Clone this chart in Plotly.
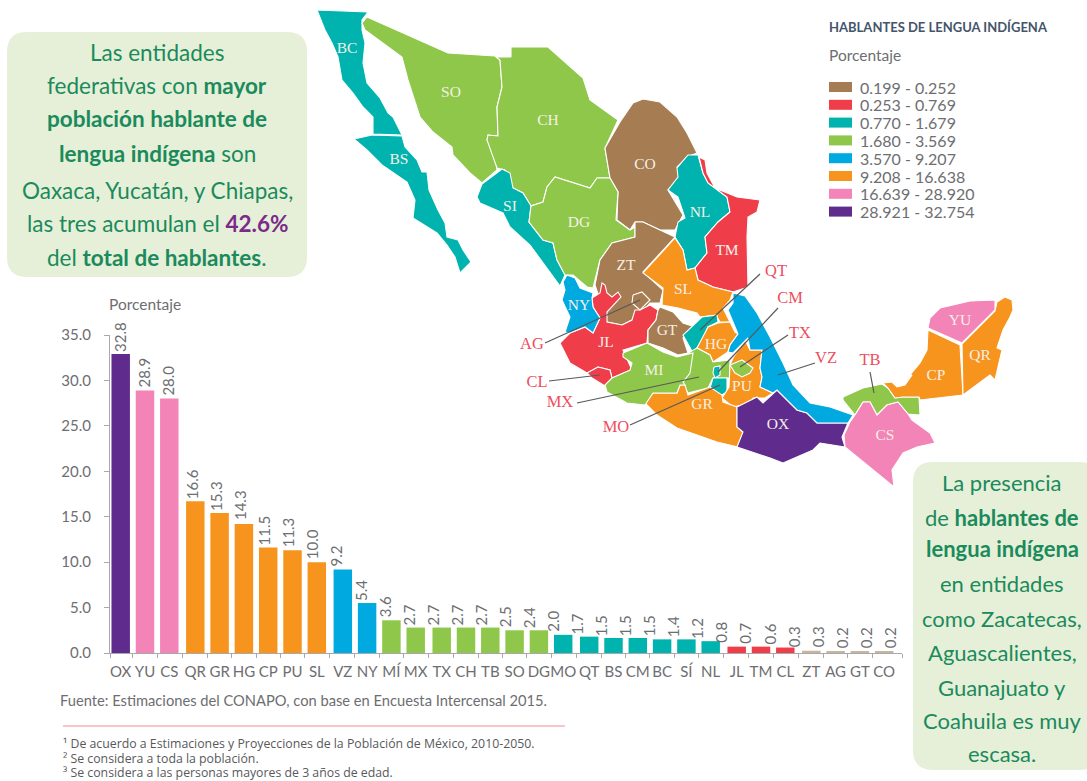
import plotly.graph_objects as go

# ---------- bar data ----------
categories = ["OX","YU","CS","QR","GR","HG","CP","PU","SL","VZ","NY","MÍ","MX","TX","CH","TB","SO","DG","MO","QT","BS","CM","BC","SÍ","NL","JL","TM","CL","ZT","AG","GT","CO"]
bar_values = [32.9,28.9,28.0,16.7,15.4,14.2,11.6,11.3,10.0,9.2,5.5,3.6,2.8,2.8,2.8,2.8,2.5,2.5,2.0,1.8,1.65,1.65,1.5,1.5,1.3,0.7,0.7,0.6,0.25,0.2,0.2,0.2]
printed_labels = ["32.8","28.9","28.0","16.6","15.3","14.3","11.5","11.3","10.0","9.2","5.4","3.6","2.7","2.7","2.7","2.7","2.5","2.4","2.0","1.7","1.5","1.5","1.5","1.4","1.2","0.8","0.7","0.6","0.3","0.3","0.2","0.2","0.2"]
bins = ["P","K","K","O","O","O","O","O","O","B","B","G","G","G","G","G","G","G","T","T","T","T","T","T","T","R","R","R","N","N","N","N"]
gaps_before = [3,9,13,19,25,28]
y_ticks = [0,5,10,15,20,25,30,35]

PALETTE = {"N":"#a67c52","R":"#ef3e4a","T":"#00b3ae","G":"#8fc74a","B":"#00aae0","O":"#f7941e","K":"#f384b7","P":"#5f2c8e"}
legend_ranges = ["0.199 - 0.252","0.253 - 0.769","0.770 - 1.679","1.680 - 3.569","3.570 - 9.207","9.208 - 16.638","16.639 - 28.920","28.921 - 32.754"]
legend_keys = ["N","R","T","G","B","O","K","P"]

# ---------- map outlines (traced in map space) ----------
states = [
 ("BC","T",[(317,10),(368,12),(362,20),(362,30),(365,43),(363,63),(367,83),(380,98),(388,113),(393,117),(402,135),(373,134),(373,117),(363,107),(353,93),(342,80),(338,57),(332,43),(325,30)]),
 ("BS","T",[(354,139),(372,135),(402,136),(405,147),(417,160),(422,172),(427,172),(429,190),(438,210),(445,223),(447,237),(458,240),(463,250),(471,262),(460,273),(455,257),(447,245),(437,233),(413,218),(415,200),(407,182),(382,165),(367,150)]),
 ("SO","G",[(367,17),(448,53),(495,56),(500,60),(502,87),(497,107),(498,136),(488,135),(487,140),(495,155),(497,170),(482,183),(470,173),(453,155),(452,147),(433,132),(420,117),(408,80),(402,57),(382,42),(365,30),(362,23)]),
 ("CH","G",[(511,57),(511,47),(548,47),(583,78),(590,100),(618,120),(605,148),(610,178),(597,178),(590,188),(555,177),(547,187),(543,202),(531,206),(523,193),(513,188),(505,170),(497,168),(487,140),(488,135),(498,136),(497,107),(502,87),(500,60),(496,57)]),
 ("CO","N",[(620,122),(633,103),(643,99),(660,102),(677,117),(687,133),(697,153),(687,157),(677,167),(682,175),(668,190),(683,215),(675,230),(660,230),(643,222),(635,222),(630,230),(617,220),(618,192),(610,178),(605,148)]),
 ("NL","T",[(698,155),(703,173),(708,183),(727,197),(730,212),(718,222),(705,237),(707,253),(695,268),(687,270),(683,250),(675,237),(678,222),(685,218),(678,197),(668,190),(678,177),(677,168),(688,155)]),
 ("TM","R",[(699,157),(705,160),(707,173),(715,188),(737,197),(760,200),(757,212),(748,217),(747,237),(748,287),(733,292),(713,287),(698,280),(695,268),(707,253),(705,237),(718,222),(730,212),(727,197),(708,183),(703,173)]),
 ("SI","T",[(502,169),(510,173),(513,188),(523,193),(531,206),(529,222),(543,240),(553,243),(557,260),(565,275),(560,286),(530,245),(510,227),(503,213),(480,203),(477,197),(482,184)]),
 ("DG","G",[(555,177),(590,188),(597,178),(610,178),(618,192),(616,220),(630,230),(635,227),(635,237),(612,243),(600,260),(593,288),(587,287),(573,275),(565,275),(557,260),(553,243),(543,240),(529,222),(531,206),(543,202),(547,187)]),
 ("ZT","N",[(635,222),(643,222),(660,230),(675,237),(643,272),(663,290),(660,303),(657,303),(650,303),(642,313),(632,320),(622,325),(607,322),(600,300),(595,285),(600,260),(612,243),(635,237)]),
 ("JL","R",[(592,298),(600,293),(602,283),(605,285),(607,293),(612,297),(618,292),(621,297),(607,312),(607,322),(622,325),(632,320),(635,310),(640,310),(650,305),(658,310),(656,320),(648,330),(647,343),(623,350),(632,370),(612,378),(610,370),(598,367),(587,373),(570,363),(560,343),(570,333),(585,327),(593,333),(600,318),(593,307)]),
 ("CL","R",[(587,373),(598,367),(610,370),(612,378),(605,386),(592,378)]),
 ("NY","B",[(567,275),(575,278),(580,288),(593,293),(592,298),(593,307),(600,318),(593,333),(585,327),(570,333),(565,332),(570,317),(562,300),(565,290),(563,282)]),
 ("AG","N",[(633,295),(642,292),(650,300),(640,310),(632,303)]),
 ("GT","N",[(660,307),(673,312),(683,323),(695,327),(683,338),(688,353),(678,355),(663,348),(648,343),(648,330),(656,320),(658,310)]),
 ("SL","O",[(675,238),(683,250),(687,270),(695,268),(698,280),(713,287),(733,292),(730,300),(723,308),(730,322),(720,322),(716,315),(700,317),(697,313),(678,308),(662,305),(663,288),(643,273)]),
 ("QT","T",[(702,317),(717,315),(718,322),(708,327),(703,340),(693,353),(683,335)]),
 ("HG","O",[(718,323),(730,322),(735,332),(738,334),(730,345),(728,352),(713,362),(710,355),(697,348),(708,327)]),
 ("MX","G",[(697,348),(710,355),(713,362),(730,360),(730,378),(713,378),(708,388),(688,393),(683,385),(687,365),(690,352)]),
 ("CM","T",[(714,367),(720,366),(720,375),(715,378),(713,373)]),
 ("MO","T",[(713,378),(727,378),(727,392),(720,396),(710,388)]),
 ("PU","O",[(733,358),(745,340),(750,350),(762,350),(760,368),(762,377),(760,387),(773,393),(765,398),(753,398),(752,405),(742,405),(733,407),(722,398),(729,387),(730,365)]),
 ("TX","G",[(730,365),(742,360),(753,368),(750,373),(742,377),(735,373)]),
 ("GR","O",[(645,403),(653,393),(677,393),(680,385),(685,385),(688,395),(710,387),(722,395),(723,402),(737,407),(737,427),(743,432),(738,447),(717,442),(677,428),(657,415)]),
 ("MI","G",[(623,353),(647,343),(663,352),(677,357),(693,353),(690,373),(683,382),(685,385),(680,385),(677,393),(653,393),(645,405),(627,403),(607,392),(605,385),(612,378),(630,370),(632,363),(623,357)]),
 ("OX","P",[(737,407),(750,400),(757,397),(763,403),(777,390),(797,410),(807,413),(817,423),(848,423),(842,437),(845,447),(820,443),(813,450),(783,463),(770,458),(737,447),(743,432),(737,427)]),
 ("VZ","B",[(733,293),(745,296),(757,313),(770,337),(783,363),(793,385),(810,403),(830,407),(853,415),(848,423),(817,423),(807,413),(797,410),(777,390),(773,393),(760,387),(762,377),(760,368),(762,350),(750,350),(748,338),(733,353),(728,352),(730,345),(738,334),(732,320),(728,310),(733,303)]),
 ("TB","G",[(843,397),(863,388),(882,384),(888,388),(895,398),(903,397),(919,397),(920,415),(908,414),(898,402),(887,405),(877,415),(870,402),(863,402),(855,415),(843,400)]),
 ("CS","K",[(863,402),(870,402),(877,415),(887,405),(898,402),(908,414),(912,420),(930,433),(935,443),(917,447),(903,453),(892,470),(894,487),(845,447),(844,435),(850,422),(855,415)]),
 ("CP","O",[(928,330),(960,345),(963,395),(920,400),(919,397),(903,397),(895,398),(888,388),(883,383),(892,382),(897,387),(905,385),(912,375),(910,375),(920,363),(927,350)]),
 ("YU","K",[(928,328),(930,318),(940,308),(970,301),(995,300),(995,310),(962,343)]),
 ("QR","O",[(997,302),(1005,297),(1012,300),(1013,310),(1010,317),(1003,330),(997,348),(1002,350),(998,367),(995,380),(990,375),(963,395),(962,344),(995,311)]),
]
inner_labels = {"BC":(347,49),"SO":(451,93),"CH":(548,121),"BS":(399,160),"SI":(510,207),"CO":(645,165),"NL":(700,213),"DG":(579,223),"ZT":(626,266),"TM":(727,251),"SL":(683,290),"NY":(579,306),"JL":(606,343),"GT":(667,331),"HG":(716,345),"MI":(654,371),"PU":(742,387),"GR":(702,405),"OX":(778,425),"CP":(936,376),"QR":(980,356),"YU":(960,321),"CS":(885,436)}
outer_labels = {"AG":(532,345),"CL":(537,383),"MX":(560,403),"MO":(616,428),"QT":(776,272),"CM":(790,299),"TX":(800,334),"VZ":(826,359),"TB":(870,361)}
leaders = [((545,343),(640,300)),((549,381),(600,375)),((577,403),(699,377)),((630,425),(720,385)),((760,274),(700,330)),((778,308),(718,372)),((788,335),(740,367)),((815,363),(778,375)),((870,372),(874,393))]

left_box_lines = ["Las entidades","federativas con <b>mayor</b>","<b>población hablante de</b>","<b>lengua indígena</b> son","Oaxaca, Yucatán, y Chiapas,","las tres acumulan el <b><span style='color:#7a2a8a'>42.6%</span></b>","del <b>total de hablantes</b>."]
right_box_lines = ["La presencia","de <b>hablantes de</b>","<b>lengua indígena</b>","en entidades","como Zacatecas,","Aguascalientes,","Guanajuato y","Coahuila es muy","escasa."]
left_box_y = [52,85,118,153,190,223,257]
right_box_y = [482,517,548,583,618,652,687,720,753]

W, H = 1087, 781
AX_L, AX_R, AX_B, AX_T = 110, 902, 653, 335
SLOT = 24.3
FIRST = 120.7

# positions of the bars along the axis, in bar slots
xs, off = [], 0.0
for i in range(len(categories)):
    if i in gaps_before:
        off += 0.07
    xs.append(i + off)
x_range = [(AX_L - FIRST) / SLOT, (AX_R - FIRST) / SLOT]
boundaries = [x_range[0]] + [(a + b) / 2 for a, b in zip(xs, xs[1:])] + [x_range[1]]
label_xs = [-0.03 + 0.99 * j for j in range(len(printed_labels))]

GREY = "#6d6e71"
UI = "Lato, 'Open Sans', sans-serif"
SERIF = "'Liberation Serif', serif"

fig = go.Figure()
fig.add_trace(go.Bar(x=xs, y=bar_values, width=0.76,
    marker=dict(color=[("#c9b49c" if b == "N" else PALETTE[b]) for b in bins], line_width=0),
    hoverinfo="skip", showlegend=False, xaxis="x", yaxis="y"))
fig.add_trace(go.Bar(x=label_xs, y=[float(v) for v in printed_labels], width=0.5,
    marker=dict(color="rgba(0,0,0,0)", line_width=0), text=printed_labels,
    textposition="outside", textangle=-90, constraintext="none", cliponaxis=False,
    textfont=dict(family=UI, size=15, color=GREY),
    hoverinfo="skip", showlegend=False, xaxis="x", yaxis="y"))

for name, key, pts in states:
    fig.add_trace(go.Scatter(x=[p[0] for p in pts] + [pts[0][0]], y=[p[1] for p in pts] + [pts[0][1]],
        mode="lines", fill="toself", fillcolor=PALETTE[key], line=dict(color="white", width=1.1),
        name=name, hoverinfo="skip", showlegend=False, xaxis="x2", yaxis="y2"))
for a, b in leaders:
    fig.add_trace(go.Scatter(x=[a[0], b[0]], y=[a[1], b[1]], mode="lines", line=dict(color="#58595b", width=1.2),
        hoverinfo="skip", showlegend=False, xaxis="x2", yaxis="y2"))
fig.add_trace(go.Scatter(x=[v[0] for v in inner_labels.values()], y=[v[1] for v in inner_labels.values()],
    text=list(inner_labels), mode="text", textfont=dict(family=SERIF, size=15.5, color="#f5f0e6"),
    hoverinfo="skip", showlegend=False, xaxis="x2", yaxis="y2"))
fig.add_trace(go.Scatter(x=[v[0] for v in outer_labels.values()], y=[v[1] for v in outer_labels.values()],
    text=list(outer_labels), mode="text", textfont=dict(family=SERIF, size=16.5, color="#ee4e5e"),
    hoverinfo="skip", showlegend=False, xaxis="x2", yaxis="y2"))

def rounded(x0, y0, x1, y1, r):
    return (f"M{x0+r},{y0} L{x1-r},{y0} Q{x1},{y0} {x1},{y0+r} L{x1},{y1-r} Q{x1},{y1} {x1-r},{y1} "
            f"L{x0+r},{y1} Q{x0},{y1} {x0},{y1-r} L{x0},{y0+r} Q{x0},{y0} {x0+r},{y0} Z")

BOX = "#e6f0d8"
shapes = [
    dict(type="path", xref="x2", yref="y2", path=rounded(7, 32, 307, 277, 20), fillcolor=BOX, line_width=0, layer="below"),
    dict(type="path", xref="x2", yref="y2", path=rounded(913, 462, 1100, 770, 20), fillcolor=BOX, line_width=0, layer="below"),
    dict(type="line", xref="x2", yref="y2", x0=63, x1=565, y0=726, y1=726, line=dict(color="#f08a90", width=1)),
]
ann = []
def txt(x, y, s, size, color=GREY, family=UI, anchor="left"):
    ann.append(dict(x=x, y=y, xref="x2", yref="y2", text=s, showarrow=False, xanchor=anchor, yanchor="middle",
                    font=dict(family=family, size=size, color=color), align=anchor))

GREEN = "#1b8a5c"
for s, y in zip(left_box_lines, left_box_y):
    txt(157, y, s, 22.5, GREEN, UI, "center")
for s, y in zip(right_box_lines, right_box_y):
    txt(1002, y, s, 22, GREEN, UI, "center")

txt(827, 27, "<b>HABLANTES DE LENGUA INDÍGENA</b>", 13, "#44546a")
txt(827, 55, "Porcentaje", 15.5)
for i, (k, lab) in enumerate(zip(legend_keys, legend_ranges)):
    yc = 87 + i * 17.8
    shapes.append(dict(type="rect", xref="x2", yref="y2", x0=829, x1=852, y0=yc - 5, y1=yc + 5, fillcolor=PALETTE[k], line_width=0))
    txt(858, yc, lab, 16)

txt(107, 304, "Porcentaje", 15.5)
txt(58, 700, "Fuente: Estimaciones del CONAPO, con base en Encuesta Intercensal 2015.", 14.7)
txt(61, 743, "¹ De acuerdo a Estimaciones y Proyecciones de la Población de México, 2010-2050.", 12.3, "#58595b", "'Open Sans', sans-serif")
txt(61, 758, "² Se considera a toda la población.", 12.3, "#58595b", "'Open Sans', sans-serif")
txt(61, 772, "³ Se considera a las personas mayores de 3 años de edad.", 12.3, "#58595b", "'Open Sans', sans-serif")

fig.update_layout(
    width=W, height=H, margin=dict(l=0, r=0, t=0, b=0, autoexpand=False), paper_bgcolor="white", plot_bgcolor="rgba(0,0,0,0)",
    barmode="overlay", showlegend=False, shapes=shapes, annotations=ann,
    xaxis=dict(domain=[AX_L / W, AX_R / W], range=x_range, tickvals=xs, ticktext=categories, ticks="", showgrid=False,
               zeroline=False, showline=True, linecolor="#a7a9ac", linewidth=1, ticklabelstandoff=5,
               tickfont=dict(family=UI, size=15, color=GREY), tickangle=0,
               minor=dict(tickvals=boundaries, ticks="outside", ticklen=4, tickcolor="#a7a9ac", showgrid=False)),
    yaxis=dict(domain=[(H - AX_B) / H, (H - AX_T) / H], range=[0, 35], tickvals=y_ticks,
               ticktext=[f"{v:.1f}" for v in y_ticks], ticks="outside", ticklen=5, tickcolor="#a7a9ac",
               showgrid=False, zeroline=False, showline=True, linecolor="#a7a9ac", linewidth=1, ticklabelstandoff=10,
               tickfont=dict(family=UI, size=15, color=GREY)),
    xaxis2=dict(domain=[0, 1], range=[0, W], visible=False, anchor="y2", fixedrange=True),
    yaxis2=dict(domain=[0, 1], range=[H, 0], visible=False, anchor="x2", fixedrange=True),
)
fig.write_html("out.html", config={"displayModeBar": False},
               post_script="document.body.style.margin='0';document.body.style.overflow='hidden';")
